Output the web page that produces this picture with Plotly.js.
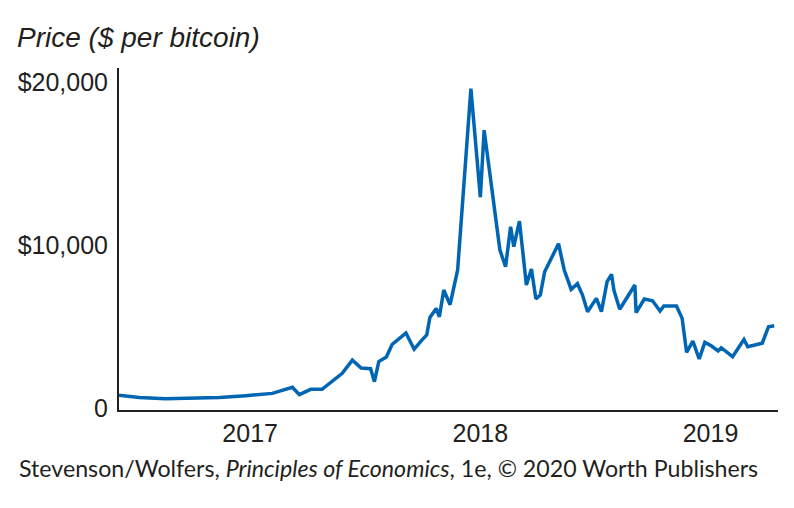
<!DOCTYPE html>
<html>
<head>
<meta charset="utf-8">
<script src="https://cdn.plot.ly/plotly-3.0.1.min.js"></script>
<style>html,body{margin:0;padding:0;background:#fff;}#chart{width:794px;height:508px;}</style>
</head>
<body>
<div id="chart"></div>
<script>
const dates = [
  "2016-06-07","2016-07-09","2016-08-20","2016-11-13","2016-12-25","2017-02-05","2017-03-09","2017-03-20",
  "2017-04-07","2017-04-25","2017-05-27","2017-06-12","2017-06-26","2017-07-11","2017-07-17","2017-07-24",
  "2017-08-05","2017-08-14","2017-09-05","2017-09-18","2017-10-01","2017-10-08","2017-10-13","2017-10-23",
  "2017-10-28","2017-11-04","2017-11-14","2017-11-26","2017-12-17","2018-01-01","2018-01-07","2018-02-01",
  "2018-02-10","2018-02-18","2018-02-23","2018-03-04","2018-03-15","2018-03-23","2018-03-30","2018-04-06",
  "2018-04-13","2018-05-05","2018-05-14","2018-05-25","2018-06-04","2018-06-12","2018-06-20","2018-07-04",
  "2018-07-12","2018-07-21","2018-07-28","2018-08-01","2018-08-10","2018-09-03","2018-09-05","2018-09-18",
  "2018-10-01","2018-10-13","2018-10-19","2018-11-08","2018-11-17","2018-11-24","2018-12-04","2018-12-14",
  "2018-12-23","2019-01-02","2019-01-13","2019-01-18","2019-02-05","2019-02-23","2019-03-01","2019-03-14",
  "2019-03-24","2019-04-03","2019-04-12"
];
const prices = [
  780,650,570,640,760,900,1270,820,
  1150,1150,2130,2940,2450,2410,1620,2850,
  3130,3900,4600,3610,4200,4480,5560,6110,
  5600,7240,6340,8470,19600,12930,17050,9690,
  8670,11120,9900,11470,7550,8530,6700,6930,
  8360,10080,8470,7280,7630,6930,5910,6730,
  5910,7750,8200,7200,6060,7550,5850,6690,
  6580,5950,6260,6260,5500,3420,4110,3010,
  4030,3820,3500,3700,3150,4210,3760,3900,
  3980,4990,5050
];
const xTickVals = ["2017-01-01","2018-01-01","2019-01-01"];
const xTickText = ["2017","2018","2019"];
const yTickVals = [0,10000,20000];
const yTickText = ["0","$10,000","$20,000"];
const titleText = "<i>Price ($ per bitcoin)</i>";
const sourceText = "Stevenson/Wolfers, <i>Principles of Economics</i>, 1e, © 2020 Worth Publishers";

const font = "'Liberation Sans', Arial, Helvetica, sans-serif";
const trace = {
  x: dates, y: prices, type: "scatter", mode: "lines",
  line: {color: "#0065b3", width: 3.5},
  hoverinfo: "skip"
};
const layout = {
  width: 794, height: 508,
  margin: {l: 119, r: 16, t: 68, b: 98, pad: 0},
  paper_bgcolor: "#fff", plot_bgcolor: "#fff",
  showlegend: false,
  font: {family: font, color: "#231f20", size: 25},
  title: {text: titleText, x: 17/794, xanchor: "left", xref: "container",
          y: 1 - 37/508, yanchor: "middle", yref: "container",
          font: {family: font, size: 28, color: "#231f20"}},
  xaxis: {
    type: "date", range: ["2016-06-07", "2019-04-18"],
    tickvals: xTickVals, ticktext: xTickText,
    showgrid: false, zeroline: false, ticks: "",
    showline: true, linecolor: "#231f20", linewidth: 2,
    ticklabelstandoff: 0,
    tickfont: {family: font, size: 25, color: "#231f20"}
  },
  yaxis: {
    range: [-120, 20860],
    tickvals: yTickVals, ticktext: yTickText,
    showgrid: false, zeroline: false, ticks: "",
    showline: true, linecolor: "#231f20", linewidth: 2,
    ticklabelstandoff: 4,
    tickfont: {family: font, size: 25, color: "#231f20"}
  },
  annotations: [{
    text: sourceText, xref: "paper", yref: "paper",
    x: (17 - 119) / 659, xanchor: "left",
    y: (410 - 468) / 342, yanchor: "middle",
    showarrow: false,
    font: {family: "Lato, 'Open Sans', sans-serif", size: 23.2, color: "#231f20"}
  }]
};
Plotly.newPlot("chart", [trace], layout, {staticPlot: true, displayModeBar: false});
</script>
</body>
</html>
